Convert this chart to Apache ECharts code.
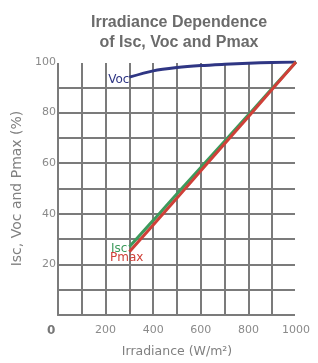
<!DOCTYPE html>
<html>
<head>
<meta charset="utf-8">
<script src="https://cdn.jsdelivr.net/npm/echarts@6/dist/echarts.min.js"></script>
<style>html,body{margin:0;padding:0;background:#fff;}#c{width:318px;height:363px;}</style>
</head>
<body>
<div id="c"></div>
<script>
var irradiance = [300, 400, 500, 600, 700, 800, 900, 1000];
var vocValues  = [94, 96.5, 97.8, 98.6, 99.1, 99.5, 99.8, 100];
var iscValues  = [27, 37.4, 47.9, 58.3, 68.7, 79.1, 89.6, 100];
var pmaxValues = [25, 35.6, 46.2, 57, 67.7, 78.4, 89.2, 100];
var xTickLabels = [200, 400, 600, 800, 1000];
var yTickLabels = [20, 40, 60, 80, 100];
var seriesNames = ['Voc', 'Isc', 'Pmax'];

var gridColor = '#7b7b7b';
var chart = echarts.init(document.getElementById('c'));

function buildData(vals, labelCfg) {
  return irradiance.map(function (x, i) {
    if (i === 0) return { value: [x, vals[i]], label: labelCfg };
    return [x, vals[i]];
  });
}

function makeSeries(name, vals, color, labelCfg) {
  return {
    name: name,
    type: 'line',
    data: buildData(vals, Object.assign({ show: true, formatter: name, color: color,
      fontFamily: 'DejaVu Sans', fontSize: 12 }, labelCfg)),
    symbol: 'circle',
    symbolSize: 0.1,
    showSymbol: true,
    smooth: name === 'Voc' ? 0.3 : false,
    lineStyle: { color: color, width: 3 },
    itemStyle: { color: color },
    label: { show: false },
    emphasis: { disabled: true },
    silent: true,
    animation: false
  };
}

chart.setOption({
  animation: false,
  title: {
    text: 'Irradiance Dependence\nof Isc, Voc and Pmax',
    left: 174,
    textAlign: 'center',
    top: 8,
    textStyle: { fontFamily: 'Liberation Sans', fontWeight: 'bold', fontSize: 16, color: '#6b6b6b', lineHeight: 20 }
  },
  grid: { left: 58, right: 22, top: 62, bottom: 45, containLabel: false },
  xAxis: {
    type: 'value', min: 0, max: 1000, interval: 100,
    name: 'Irradiance (W/m²)', nameLocation: 'middle', nameGap: 30,
    nameTextStyle: { fontFamily: 'DejaVu Sans', fontSize: 12.5, color: '#808080' },
    axisLine: { show: true, lineStyle: { color: gridColor, width: 2 } },
    axisTick: { show: false },
    axisLabel: {
      margin: 10, fontFamily: 'DejaVu Sans', fontSize: 11, color: '#8a8a8a',
      showMinLabel: false, showMaxLabel: true,
      formatter: function (v) { return xTickLabels.indexOf(v) >= 0 ? String(v) : ''; }
    },
    splitLine: { show: true, lineStyle: { color: gridColor, width: 2 } }
  },
  yAxis: {
    type: 'value', min: 0, max: 100, interval: 10,
    name: 'Isc, Voc and Pmax (%)', nameLocation: 'middle', nameGap: 30,
    nameTextStyle: { fontFamily: 'DejaVu Sans', fontSize: 14, color: '#808080' },
    axisLine: { show: true, lineStyle: { color: gridColor, width: 2 } },
    axisTick: { show: false },
    axisLabel: {
      margin: 2, fontFamily: 'DejaVu Sans', fontSize: 11, color: '#8a8a8a',
      showMinLabel: false,
      formatter: function (v) { return yTickLabels.indexOf(v) >= 0 ? String(v) : ''; }
    },
    splitLine: { show: true, lineStyle: { color: gridColor, width: 2 } }
  },
  graphic: [
    { type: 'rect', left: 57, top: 61, shape: { width: 240, height: 2 }, style: { fill: '#fff' }, z: 1 },
    { type: 'rect', left: 295, top: 61, shape: { width: 3, height: 256 }, style: { fill: '#fff' }, z: 1 },
    { type: 'text', left: 47, top: 325, style: { text: '0', fontFamily: 'DejaVu Sans', fontWeight: 'bold', fontSize: 12, fill: '#777' }, z: 5 }
  ],
  series: [
    makeSeries(seriesNames[0], vocValues, '#2f3684', { position: 'left', distance: 0, offset: [0, 3] }),
    makeSeries(seriesNames[1], iscValues, '#3d9a5c', { position: 'left', distance: 2, offset: [0, 2] }),
    makeSeries(seriesNames[2], pmaxValues, '#cf4038', { position: 'left', distance: 0, offset: [14, 6] })
  ]
});
</script>
</body>
</html>
